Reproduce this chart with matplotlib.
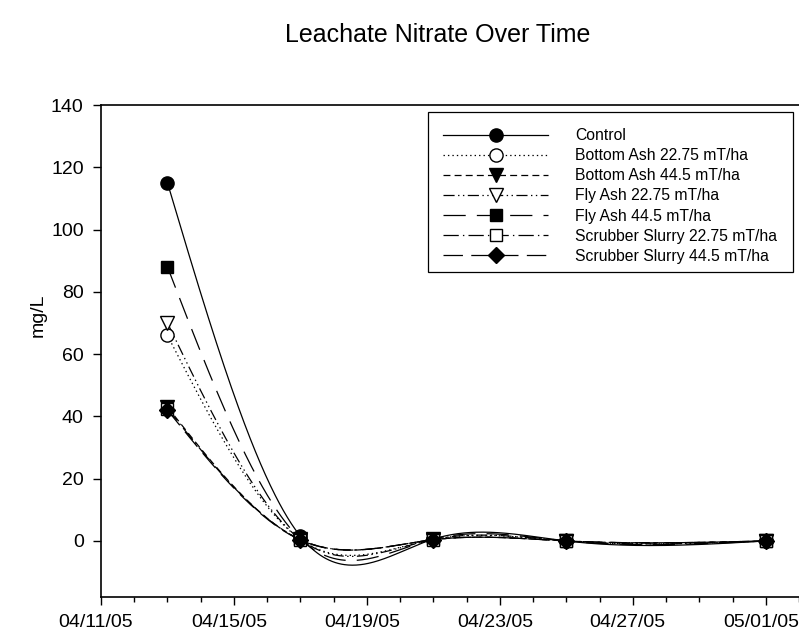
import numpy as np
import matplotlib
matplotlib.use("Agg")
import matplotlib.pyplot as plt
import matplotlib.dates as mdates
import matplotlib.transforms as mtransforms
from matplotlib.patches import Rectangle

plt.rcParams['font.family'] = ['Liberation Sans', 'DejaVu Sans']
plt.rcParams['lines.scale_dashes'] = False

# ---- data ----
dates = ["2005-04-13", "2005-04-17", "2005-04-21", "2005-04-25", "2005-05-01"]
series_names = ["Control", "Bottom Ash 22.75 mT/ha", "Bottom Ash 44.5 mT/ha",
                "Fly Ash 22.75 mT/ha", "Fly Ash 44.5 mT/ha",
                "Scrubber Slurry 22.75 mT/ha", "Scrubber Slurry 44.5 mT/ha"]
control = [115, 1.5, 0.6, 0.0, 0.0]
bottom_ash_2275 = [66, 0.5, 0.5, 0.0, 0.0]
bottom_ash_445 = [43, 0.4, 0.4, 0.0, 0.0]
fly_ash_2275 = [70, 0.5, 0.5, 0.0, 0.0]
fly_ash_445 = [88, 0.6, 0.6, 0.0, 0.0]
scrubber_2275 = [42.5, 0.4, 0.4, 0.0, 0.0]
scrubber_445 = [42, 0.3, 0.4, 0.0, 0.0]
values = [control, bottom_ash_2275, bottom_ash_445, fly_ash_2275,
          fly_ash_445, scrubber_2275, scrubber_445]
y_ticks = [0, 20, 40, 60, 80, 100, 120, 140]

# ---- styles ----
styles = [
    dict(ls='-', marker='o', mfc='black'),
    dict(ls=(0, (1, 2.2)), marker='o', mfc='white'),
    dict(ls=(0, (5, 3)), marker='v', mfc='black'),
    dict(ls=(0, (8, 2.5, 1, 2.5, 1, 2.5)), marker='v', mfc='white'),
    dict(ls=(0, (16, 8)), marker='s', mfc='black'),
    dict(ls=(0, (11, 3, 1, 3)), marker='s', mfc='white'),
    dict(ls=(0, (14, 6)), marker='D', mfc='black'),
]
msizes = {'o': 9.5, 'v': 9.5, 's': 8.5, 'D': 8}


def natural_spline(x, y, xs):
    x = np.asarray(x, float); y = np.asarray(y, float)
    n = len(x)
    h = np.diff(x)
    A = np.zeros((n, n)); b = np.zeros(n)
    A[0, 0] = 1; A[-1, -1] = 1
    for i in range(1, n - 1):
        A[i, i - 1] = h[i - 1]
        A[i, i] = 2 * (h[i - 1] + h[i])
        A[i, i + 1] = h[i]
        b[i] = 6 * ((y[i + 1] - y[i]) / h[i] - (y[i] - y[i - 1]) / h[i - 1])
    M = np.linalg.solve(A, b)
    out = np.empty_like(xs)
    for k, xv in enumerate(xs):
        i = min(max(np.searchsorted(x, xv) - 1, 0), n - 2)
        hi = h[i]
        t1 = x[i + 1] - xv; t0 = xv - x[i]
        out[k] = (M[i] * t1 ** 3 / (6 * hi) + M[i + 1] * t0 ** 3 / (6 * hi)
                  + (y[i] / hi - M[i] * hi / 6) * t1
                  + (y[i + 1] / hi - M[i + 1] * hi / 6) * t0)
    return out


fig = plt.figure(figsize=(7.99, 6.37), dpi=100)
ax = fig.add_axes([101 / 799, 40 / 637, 698 / 799, 492 / 637])

xnum = mdates.date2num(np.array(dates, dtype='datetime64[D]'))
xs = np.linspace(xnum[0], xnum[-1], 600)

for name, vals, st in zip(series_names, values, styles):
    ys = natural_spline(xnum, vals, xs)
    ax.plot(xs, ys, color='black', lw=0.9, ls=st['ls'], zorder=2)
for name, vals, st in zip(series_names, values, styles):
    ax.plot(xnum, vals, ls='none', marker=st['marker'], mfc=st['mfc'],
            mec='black', mew=1.0, ms=msizes[st['marker']], zorder=3)

# legend handles
handles = []
for name, st in zip(series_names, styles):
    h, = ax.plot([], [], color='black', lw=0.9, ls=st['ls'], marker=st['marker'],
                 mfc=st['mfc'], mec='black', mew=1.0, ms=msizes[st['marker']],
                 label=name)
    handles.append(h)
leg = ax.legend(handles=handles, loc='upper left',
                bbox_to_anchor=(0.49, 0.9524), borderaxespad=0,
                frameon=False, fontsize=11.3, numpoints=1, handlelength=6.7,
                handletextpad=1.72, labelspacing=0.32, borderpad=0)
ax.add_patch(Rectangle((0.4685, 0.6606), 0.9914 - 0.4685, 0.9858 - 0.6606,
                       transform=ax.transAxes, fill=False, edgecolor='black',
                       lw=0.9, zorder=4))

start = mdates.date2num(np.datetime64('2005-04-11'))
ax.set_xlim(start, start + 21)
ax.set_ylim(-18, 140)
ax.xaxis.set_major_locator(mdates.DayLocator(bymonthday=[11, 15, 19, 23, 27, 1]))
ax.xaxis.set_minor_locator(mdates.DayLocator())
ax.xaxis.set_major_formatter(mdates.DateFormatter('%m/%d/%y'))
ax.set_yticks(y_ticks)

ax.spines['right'].set_visible(False)
for sp in ['left', 'bottom', 'top']:
    ax.spines[sp].set_linewidth(1.2)
ax.tick_params(axis='both', which='major', direction='out', length=5.5,
               width=1, labelsize=14, pad=7)
ax.tick_params(axis='x', which='minor', direction='out', length=3.6, width=1)
ax.tick_params(axis='y', which='minor', left=False)
ax.tick_params(axis='x', top=False, which='both')

offset = mtransforms.ScaledTranslation(-5 / 100, 0, fig.dpi_scale_trans)
for lbl in ax.get_xticklabels():
    lbl.set_transform(lbl.get_transform() + offset)

fig.text(438 / 799, 1 - 35 / 637, "Leachate Nitrate Over Time",
         ha='center', va='center', fontsize=18)
fig.text(38 / 799, 1 - 315 / 637, "mg/L", rotation=90,
         ha='center', va='center', fontsize=14)

fig.savefig("out.png", dpi=100)
